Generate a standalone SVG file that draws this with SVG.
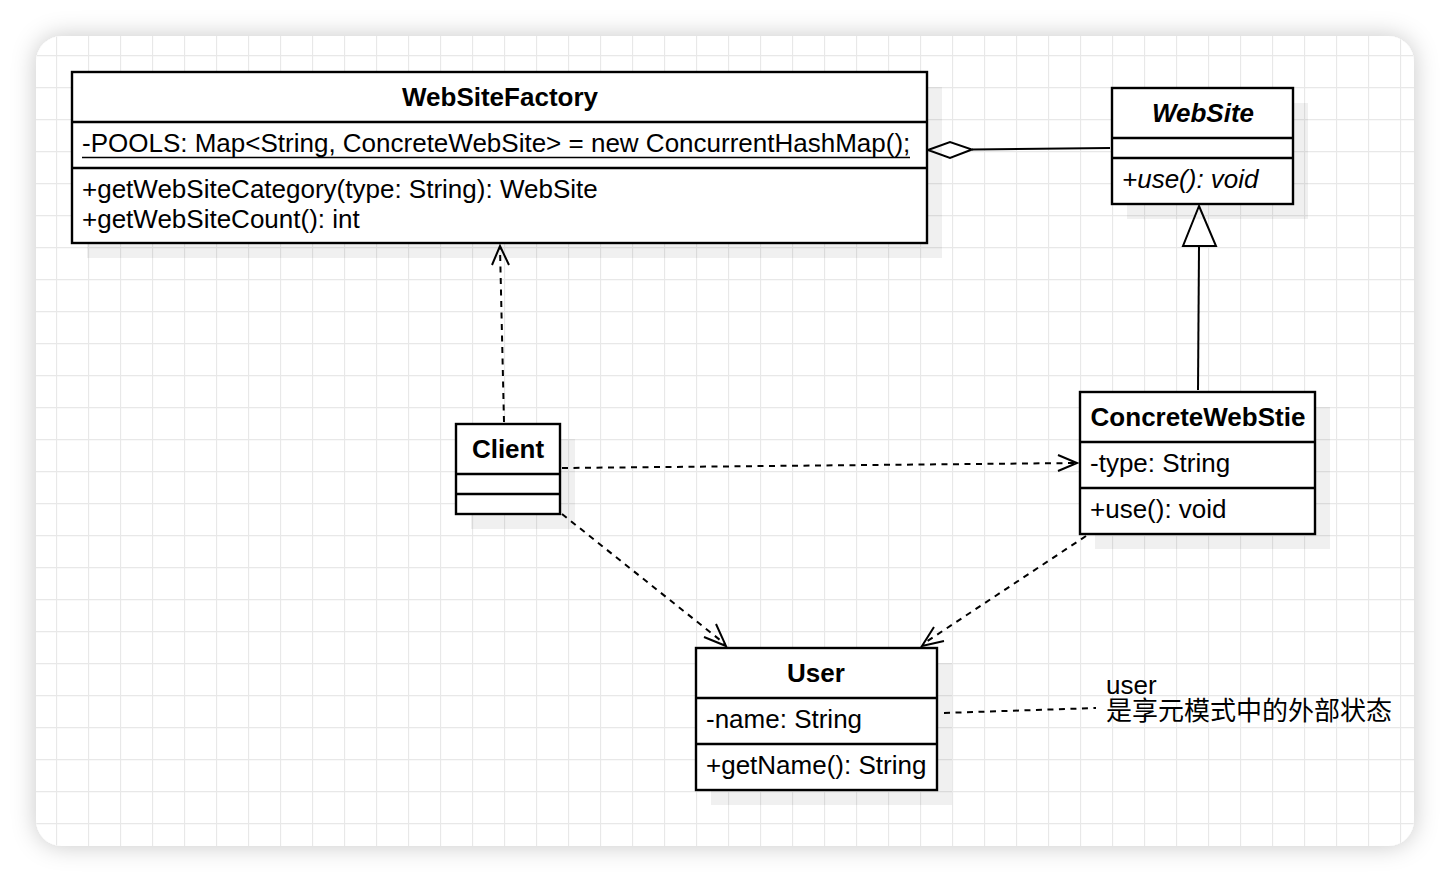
<svg xmlns="http://www.w3.org/2000/svg" width="1450" height="882" viewBox="0 0 1450 882">
<style>
text{font-family:"Liberation Sans",Arial,"Noto Sans CJK SC",sans-serif;font-size:26px;fill:#000}
.b{font-weight:bold}
.i{font-style:italic}
.box{fill:#fff;stroke:#000;stroke-width:2.4}
.sh{fill:#000;fill-opacity:0.06;stroke:none}
.div{stroke:#000;stroke-width:2.4;fill:none}
.dash{stroke:#000;stroke-width:2;fill:none;stroke-dasharray:6 5.5}
.solid{stroke:#000;stroke-width:2;fill:none}
.head{stroke:#000;stroke-width:2;fill:none}
</style>
<defs>
<pattern id="grid" x="24" y="23" width="32" height="32" patternUnits="userSpaceOnUse">
<path d="M0 0.5H32M0.5 0V32" stroke="#e8e8e8" stroke-width="1.3" fill="none"/>
</pattern>
<filter id="cardsh" x="-10%" y="-10%" width="120%" height="120%">
<feDropShadow dx="0" dy="0" stdDeviation="12" flood-color="#000" flood-opacity="0.22"/>
</filter>
</defs>
<rect x="0" y="0" width="1450" height="882" fill="#fff"/>
<rect x="36" y="36" width="1378" height="810" rx="26" fill="#fff" filter="url(#cardsh)"/>
<rect x="36" y="36" width="1378" height="810" rx="26" fill="url(#grid)"/>

<g id="connectors">
<path class="solid" d="M972 149.5L1110 148"/>
<path d="M928 150L950 142L972 149.5L950 158Z" fill="#fff" stroke="#000" stroke-width="2"/>
<path class="solid" d="M1199 247L1198 390"/>
<path d="M1199 206L1216 246L1183 246Z" fill="#fff" stroke="#000" stroke-width="2"/>
<path class="dash" d="M504 422L500 248"/>
<path class="head" d="M492 265L500 246L509 265"/>
<path class="dash" d="M562 468L1076 463"/>
<path class="head" d="M1058 455L1077 463L1058 471"/>
<path class="dash" d="M562 514L725 644"/>
<path class="head" d="M704 637L726 646L716 624"/>
<path class="dash" d="M1086 536L923 644"/>
<path class="head" d="M934 627L922 646L944 641"/>
<path class="dash" d="M944 713L1096 708"/>
</g>

<g id="WebSiteFactory">
<rect class="sh" x="87" y="87" width="855" height="171"/>
<rect class="box" x="72" y="72" width="855" height="171"/>
<path class="div" d="M72 122H927M72 168H927"/>
<text class="b" x="500" y="106" text-anchor="middle">WebSiteFactory</text>
<text x="82" y="152">-POOLS: Map&lt;String, ConcreteWebSite&gt; = new ConcurrentHashMap();</text>
<path d="M82 157.5H910" stroke="#000" stroke-width="1.6"/>
<text x="82" y="198">+getWebSiteCategory(type: String): WebSite</text>
<text x="82" y="228">+getWebSiteCount(): int</text>
</g>

<g id="WebSite">
<rect class="sh" x="1127" y="103" width="181" height="116"/>
<rect class="box" x="1112" y="88" width="181" height="116"/>
<path class="div" d="M1112 138H1294M1112 158H1294"/>
<text class="b i" x="1203" y="122" text-anchor="middle">WebSite</text>
<text class="i" x="1122" y="188">+use(): void</text>
</g>

<g id="Client">
<rect class="sh" x="471" y="439" width="104" height="90"/>
<rect class="box" x="456" y="424" width="104" height="90"/>
<path class="div" d="M456 474H561M456 494H561"/>
<text class="b" x="508" y="458" text-anchor="middle">Client</text>
</g>

<g id="ConcreteWebStie">
<rect class="sh" x="1095" y="407" width="235" height="142"/>
<rect class="box" x="1080" y="392" width="235" height="142"/>
<path class="div" d="M1080 442H1316M1080 488H1316"/>
<text class="b" x="1198" y="426" text-anchor="middle">ConcreteWebStie</text>
<text x="1090" y="472">-type: String</text>
<text x="1090" y="518">+use(): void</text>
</g>

<g id="User">
<rect class="sh" x="711" y="663" width="241" height="142"/>
<rect class="box" x="696" y="648" width="241" height="142"/>
<path class="div" d="M696 698H938M696 744H938"/>
<text class="b" x="816" y="682" text-anchor="middle">User</text>
<text x="706" y="728">-name: String</text>
<text x="706" y="774">+getName(): String</text>
</g>

<g id="note">
<text x="1106" y="694">user</text>
<text x="1106" y="720">是享元模式中的外部状态</text>
</g>
</svg>
